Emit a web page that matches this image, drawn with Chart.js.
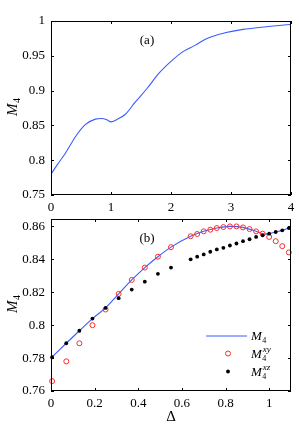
<!DOCTYPE html>
<html lang="en">
<head>
    <meta charset="UTF-8">
    <title>M4 vs Delta</title>
    <script src="https://cdn.jsdelivr.net/npm/chart.js"></script>
    <style>
        body {
            margin: 0;
            background: #fff;
            overflow: hidden;
        }
        canvas {
            position: absolute;
            left: 0;
        }
        #chartA { top: 0; }
        #chartB { top: 214px; }
    </style>
</head>
<body>
    <canvas id="chartA" width="299" height="214"></canvas>
    <canvas id="chartB" width="299" height="221"></canvas>

    <script>
        // panel (a)
        const topX = [0, 0.1, 0.24, 0.41, 0.57, 0.74, 0.85, 0.93, 1.0, 1.1, 1.24, 1.4, 1.6, 1.8, 2.0, 2.2, 2.4, 2.6, 2.9, 3.2, 3.5, 3.8, 4.0];
        const topY = [0.780, 0.793, 0.810, 0.834, 0.851, 0.859, 0.860, 0.858, 0.855, 0.8585, 0.866, 0.883, 0.903, 0.925, 0.942, 0.956, 0.965, 0.975, 0.983, 0.988, 0.991, 0.9935, 0.995];
        const topXTicks = [0, 1, 2, 3, 4];
        const topYTicks = [0.75, 0.8, 0.85, 0.9, 0.95, 1];

        // panel (b)
        const lineX = [0, 0.07, 0.13, 0.19, 0.25, 0.31, 0.37, 0.43, 0.49, 0.55, 0.64, 0.70, 0.76, 0.82, 0.88, 0.94, 0.98, 1.0, 1.03, 1.06, 1.1];
        const lineY = [0.780, 0.789, 0.7966, 0.804, 0.8105, 0.819, 0.8275, 0.835, 0.8416, 0.8474, 0.854, 0.857, 0.859, 0.860, 0.8594, 0.857, 0.8553, 0.8556, 0.8566, 0.8576, 0.8595];
        const deltaPts = [0.005, 0.07, 0.13, 0.19, 0.25, 0.31, 0.37, 0.43, 0.49, 0.55, 0.64, 0.67, 0.70, 0.73, 0.76, 0.79, 0.82, 0.85, 0.88, 0.91, 0.94, 0.97, 1.0, 1.03, 1.06, 1.09];
        const xyVals = [0.766, 0.778, 0.789, 0.800, 0.8095, 0.819, 0.8275, 0.835, 0.8416, 0.8474, 0.854, 0.8554, 0.857, 0.858, 0.859, 0.8596, 0.860, 0.860, 0.8594, 0.8584, 0.857, 0.8556, 0.8536, 0.851, 0.848, 0.8442];
        const xzVals = [0.7805, 0.789, 0.7966, 0.804, 0.8105, 0.8164, 0.8216, 0.8264, 0.8312, 0.835, 0.840, 0.8416, 0.843, 0.8446, 0.846, 0.847, 0.8484, 0.8496, 0.851, 0.8522, 0.8536, 0.8546, 0.8556, 0.8566, 0.8576, 0.859];
        const botXTicks = [0, 0.2, 0.4, 0.6, 0.8, 1];
        const botYTicks = [0.76, 0.78, 0.8, 0.82, 0.84, 0.86];

        const serif = '"Liberation Serif", "DejaVu Serif", serif';
        const blue = '#3a5cff';
        const red = '#ff2a2a';

        const zip = (xs, ys) => xs.map((x, i) => ({ x: x, y: ys[i] }));

        // italic M with subscript 4 and optional superscript
        function drawM(ctx, x, y, sup, size) {
            ctx.fillStyle = '#000';
            ctx.textBaseline = 'alphabetic';
            ctx.textAlign = 'left';
            ctx.font = 'italic ' + size + 'px ' + serif;
            ctx.fillText('M', x, y);
            const w = ctx.measureText('M').width;
            ctx.font = Math.round(size * 0.65) + 'px ' + serif;
            ctx.fillText('4', x + w + 0.5, y + 3);
            if (sup) {
                ctx.font = 'italic ' + Math.round(size * 0.7) + 'px ' + serif;
                ctx.fillText(sup, x + w + 1, y - 6);
            }
        }

        const framePlugin = {
            id: 'frame',
            afterDraw(chart, args, opts) {
                const { ctx, chartArea: a, scales } = chart;
                ctx.save();
                ctx.strokeStyle = '#000';
                ctx.lineWidth = 1;
                ctx.strokeRect(a.left + 0.5, a.top + 0.5, a.right - a.left - 1, a.bottom - a.top - 1);
                const t = 3;
                ctx.beginPath();
                scales.x.ticks.forEach(tk => {
                    const px = Math.round(scales.x.getPixelForValue(tk.value)) + 0.5;
                    ctx.moveTo(px, a.bottom); ctx.lineTo(px, a.bottom - t);
                    ctx.moveTo(px, a.top); ctx.lineTo(px, a.top + t);
                });
                scales.y.ticks.forEach(tk => {
                    const py = Math.round(scales.y.getPixelForValue(tk.value)) + 0.5;
                    ctx.moveTo(a.left, py); ctx.lineTo(a.left + t, py);
                    ctx.moveTo(a.right, py); ctx.lineTo(a.right - t, py);
                });
                ctx.stroke();

                // y label, rotated
                ctx.save();
                ctx.translate(17, (a.top + a.bottom) / 2 + 8);
                ctx.rotate(-Math.PI / 2);
                drawM(ctx, 0, 0, null, 15);
                ctx.restore();

                // panel tag
                ctx.fillStyle = '#000';
                ctx.font = '13px ' + serif;
                ctx.textAlign = 'center';
                ctx.textBaseline = 'middle';
                ctx.fillText(opts.tag, 147, a.top + 20);

                if (opts.legend) {
                    const lx = 206, ly = a.top + 117;
                    ctx.strokeStyle = blue;
                    ctx.beginPath();
                    ctx.moveTo(lx, ly); ctx.lineTo(lx + 41, ly);
                    ctx.stroke();
                    drawM(ctx, 251, ly + 4, null, 13);

                    ctx.strokeStyle = red;
                    ctx.beginPath();
                    ctx.arc(lx + 22, ly + 17.5, 2.5, 0, Math.PI * 2);
                    ctx.stroke();
                    drawM(ctx, 251, ly + 22, 'xy', 13);

                    ctx.fillStyle = '#000';
                    ctx.beginPath();
                    ctx.arc(lx + 22, ly + 35.5, 1.9, 0, Math.PI * 2);
                    ctx.fill();
                    drawM(ctx, 251, ly + 40, 'xz', 13);
                }
                ctx.restore();
            }
        };

        function fixTicks(arr) {
            return s => { s.ticks = arr.map(v => ({ value: v })); };
        }

        function axis(min, max, tickArr, isX, size, title) {
            return {
                type: 'linear',
                min: min,
                max: max,
                afterBuildTicks: fixTicks(tickArr),
                afterFit: s => {
                    if (isX) s.height = size; else s.width = size;
                    s.paddingTop = 0; s.paddingBottom = 0;
                    s.paddingLeft = 0; s.paddingRight = 0;
                },
                grid: { display: false, drawTicks: false },
                border: { display: false },
                title: title ? {
                    display: true,
                    text: title,
                    color: '#000',
                    font: { family: serif, size: 15 },
                    padding: { top: 0, bottom: 9 }
                } : { display: false },
                ticks: {
                    color: '#000',
                    font: { family: serif, size: 13 },
                    padding: isX ? 5 : 6,
                    maxRotation: 0,
                    autoSkip: false,
                    callback: v => String(+v.toFixed(2))
                }
            };
        }

        const common = {
            responsive: false,
            animation: false,
            devicePixelRatio: 1,
            plugins: { legend: { display: false }, tooltip: { enabled: false } }
        };

        new Chart(document.getElementById('chartA'), {
            type: 'scatter',
            data: {
                datasets: [{
                    data: zip(topX, topY),
                    showLine: true,
                    borderColor: blue,
                    borderWidth: 1.1,
                    pointRadius: 0,
                    cubicInterpolationMode: 'monotone'
                }]
            },
            options: Object.assign({}, common, {
                layout: { padding: { top: 21, right: 8, left: 0, bottom: 0 } },
                plugins: Object.assign({}, common.plugins, { frame: { tag: '(a)' } }),
                scales: {
                    x: axis(0, 4, topXTicks, true, 19),
                    y: axis(0.75, 1, topYTicks, false, 51)
                }
            }),
            plugins: [framePlugin]
        });

        new Chart(document.getElementById('chartB'), {
            type: 'scatter',
            data: {
                datasets: [
                    {
                        data: zip(lineX, lineY),
                        showLine: true,
                        borderColor: blue,
                        borderWidth: 1.1,
                        pointRadius: 0,
                        cubicInterpolationMode: 'monotone',
                        order: 3
                    },
                    {
                        data: zip(deltaPts, xyVals),
                        pointStyle: 'circle',
                        pointRadius: 2.5,
                        borderWidth: 1,
                        borderColor: red,
                        backgroundColor: 'rgba(0,0,0,0)',
                        clip: false,
                        order: 2
                    },
                    {
                        data: zip(deltaPts, xzVals),
                        pointStyle: 'circle',
                        pointRadius: 1.9,
                        borderWidth: 0,
                        backgroundColor: '#000',
                        clip: false,
                        order: 1
                    }
                ]
            },
            options: Object.assign({}, common, {
                layout: { padding: { top: 3, right: 8, left: 0, bottom: 0 } },
                plugins: Object.assign({}, common.plugins, { frame: { tag: '(b)', legend: true } }),
                scales: {
                    x: axis(0, 1.1, botXTicks, true, 44, 'Δ'),
                    y: axis(0.76, 0.8645, botYTicks, false, 51)
                }
            }),
            plugins: [framePlugin]
        });
    </script>
</body>
</html>
